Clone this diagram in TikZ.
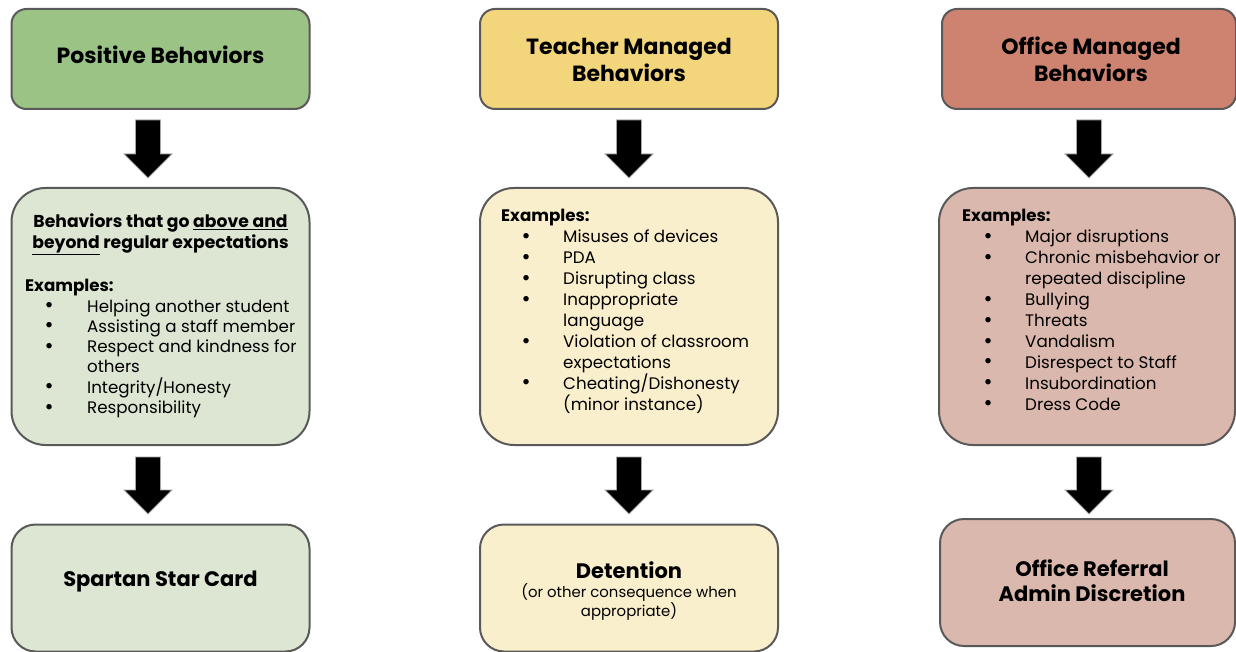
\documentclass[tikz,border=0pt]{standalone}
\usepackage{fontspec}
\setmainfont{Poppins}
\usetikzlibrary{calc}
\definecolor{gtop}{HTML}{9CC386}
\definecolor{glt}{HTML}{DDE6D3}
\definecolor{ytop}{HTML}{F3D57B}
\definecolor{ylt}{HTML}{FAEFCC}
\definecolor{rtop}{HTML}{CE8370}
\definecolor{rlt}{HTML}{DBB8AD}
\definecolor{edge}{HTML}{595959}
\newcommand\bul{\raisebox{-0.5pt}{\fontsize{22}{20}\selectfont\textbullet}}
\begin{document}
\begin{tikzpicture}[x=1pt,y=-1pt,
  box/.style={draw=edge, line width=2pt, inner sep=0pt, minimum width=298},
  topbox/.style={box, minimum height=100, rounded corners=15},
  midbox/.style={box, minimum height=257, rounded corners=34},
  botbox/.style={box, minimum height=127, rounded corners=24},
  title/.style={font=\fontsize{22}{27}\selectfont\bfseries, align=center, inner sep=0pt},
  btitle/.style={font=\fontsize{21}{25}\selectfont\bfseries, align=center, inner sep=0pt},
  head/.style={font=\fontsize{17.2}{20}\selectfont\bfseries, inner sep=0pt, anchor=base},
  body/.style={font=\fontsize{16.7}{20}\selectfont, inner sep=0pt, anchor=base west},
  small/.style={font=\fontsize{14.9}{19}\selectfont, align=center, inner sep=0pt},
  blk/.style={fill=black, draw=gray!70, line width=0.8pt, line join=miter}
]
\useasboundingbox (0,0) rectangle (1236,652);
\newcommand\blkarrow[2]{%
  \filldraw[blk] ($(#1)+(-12.5,0)$) -- ($(#2)+(-12.5,-24)$) -- ($(#2)+(-24,-24)$) -- (#2)
     -- ($(#2)+(24,-24)$) -- ($(#2)+(12.5,-24)$) -- ($(#1)+(12.5,0)$) -- cycle;}

% ---------- column 1 ----------
\node[topbox, fill=gtop] (g1) at (160.5,59) {};
\node[title] (g1t) at (160.5,55) {Positive Behaviors};
\node[midbox, fill=glt] (g2) at (160.5,316.5) {};
\node[botbox, fill=glt] (g3) at (160.5,588) {};
\node[btitle] (g3t) at (160.5,582) {Spartan Star Card};

\node[head] (g2h1) at (160.5,228) {Behaviors that go \underline{above and}};
\node[head] (g2h2) at (160.5,248.5) {\underline{beyond} regular expectations};
\node[body, font=\fontsize{16.7}{20}\selectfont\bfseries] (g2ex) at (25,291) {Examples:};
\foreach \t [count=\i] in {Helping another student, Assisting a staff member,
  Respect and kindness for, others, Integrity/Honesty, Responsibility}
  \node[body] (g2l\i) at (87,{312+(\i-1)*20.3}) {\t};
\foreach \j in {1,2,3,5,6}
  \node[body] (g2b\j) at (44.5,{312+(\j-1)*20.3}) {\bul};

\coordinate (ga1s) at (148,120); \coordinate (ga1e) at (148,178);
\coordinate (ga2s) at (148,457); \coordinate (ga2e) at (148,514);
\blkarrow{ga1s}{ga1e}
\blkarrow{ga2s}{ga2e}

% ---------- column 2 ----------
\node[topbox, fill=ytop] (y1) at (629,59) {};
\node[title] (y1t) at (629,59.5) {Teacher Managed\\Behaviors};
\node[midbox, fill=ylt] (y2) at (629,316.5) {};
\node[botbox, fill=ylt] (y3) at (629,588) {};
\node[btitle] (y3t) at (629,570) {Detention};
\node[small] (y3s) at (629,601.5) {(or other consequence when\\appropriate)};

\node[body, font=\fontsize{16.7}{20}\selectfont\bfseries] (y2ex) at (501,222) {Examples:};
\foreach \t [count=\i] in {Misuses of devices, PDA, Disrupting class, Inappropriate,
  language, Violation of classroom, expectations, Cheating/Dishonesty, (minor instance)}
  \node[body] (y2l\i) at (563,{243+(\i-1)*20.9}) {\t};
\foreach \j in {1,2,3,4,6,8}
  \node[body] (y2b\j) at (521.5,{243+(\j-1)*20.9}) {\bul};

\coordinate (ya1s) at (629,120); \coordinate (ya1e) at (629,178);
\coordinate (ya2s) at (629,457); \coordinate (ya2e) at (629,514);
\blkarrow{ya1s}{ya1e}
\blkarrow{ya2s}{ya2e}

% ---------- column 3 ----------
\node[topbox, fill=rtop, minimum width=294] (r1) at (1089,59) {};
\node[title] (r1t) at (1091,59.5) {Office Managed\\Behaviors};
\node[midbox, fill=rlt, minimum width=296] (r2) at (1087,316.5) {};
\node[botbox, fill=rlt, minimum width=295] (r3) at (1087.5,582.5) {};
\node[btitle] (r3t) at (1092,580.5) {Office Referral\\Admin Discretion};

\node[body, font=\fontsize{16.7}{20}\selectfont\bfseries] (r2ex) at (962,222) {Examples:};
\foreach \t [count=\i] in {Major disruptions, Chronic misbehavior or, repeated discipline,
  Bullying, Threats, Vandalism, Disrespect to Staff, Insubordination, Dress Code}
  \node[body] (r2l\i) at (1025,{243+(\i-1)*20.9}) {\t};
\foreach \j in {1,2,4,5,6,7,8,9}
  \node[body] (r2b\j) at (983.5,{243+(\j-1)*20.9}) {\bul};

\coordinate (ra1s) at (1089,120); \coordinate (ra1e) at (1089,178);
\coordinate (ra2s) at (1089,457); \coordinate (ra2e) at (1089,514);
\blkarrow{ra1s}{ra1e}
\blkarrow{ra2s}{ra2e}
\end{tikzpicture}
\end{document}
